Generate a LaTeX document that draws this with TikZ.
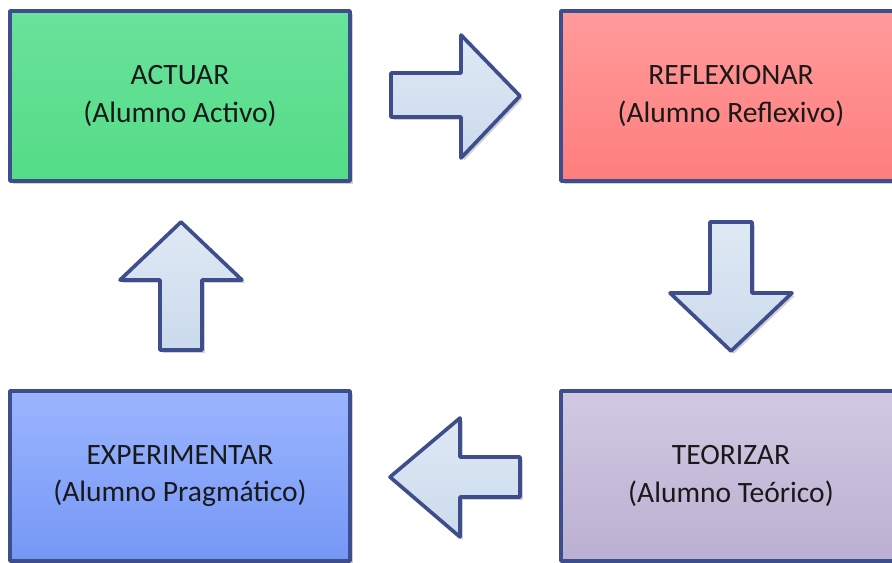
\documentclass[tikz,border=0pt]{standalone}
\usepackage{fontspec}
\setmainfont{Carlito}
\usetikzlibrary{shadows}

\definecolor{borde}{HTML}{3E4E8C}
\definecolor{verdeA}{HTML}{69E29B}
\definecolor{verdeB}{HTML}{54DC87}
\definecolor{rojoA}{HTML}{FF9B9B}
\definecolor{rojoB}{HTML}{FF7D7D}
\definecolor{moradoA}{HTML}{D1C9E2}
\definecolor{moradoB}{HTML}{BBB0D1}
\definecolor{azulA}{HTML}{9BB5FF}
\definecolor{azulB}{HTML}{7597F5}
\definecolor{flechaA}{HTML}{DFE9F4}
\definecolor{flechaB}{HTML}{CBDAEC}

\tikzset{
  caja/.style={draw=borde, line width=2.6pt, line join=round, minimum width=8.5cm, minimum height=4.25cm,
    align=center, text=black!90, font=\fontsize{21}{26.5}\selectfont,
    drop shadow={shadow xshift=2pt, shadow yshift=-2pt, opacity=0.18, fill=black}},
  flecha/.style={draw=borde, line width=2.6pt, line join=round, top color=flechaA, bottom color=flechaB,
    drop shadow={shadow xshift=2pt, shadow yshift=-2pt, opacity=0.18, fill=black}}
}

\begin{document}
\begin{tikzpicture}[x=0.025cm, y=-0.025cm]
\clip (0,0) rectangle (892,563);

\node[caja, top color=verdeA, bottom color=verdeB] (actuar) at (180,96) {ACTUAR\\(Alumno Activo)};
\node[caja, top color=rojoA, bottom color=rojoB] (reflex) at (731,96) {REFLEXIONAR\\(Alumno Reflexivo)};
\node[caja, top color=moradoA, bottom color=moradoB] (teor) at (731,476) {TEORIZAR\\(Alumno Teórico)};
\node[caja, top color=azulA, bottom color=azulB] (exper) at (180,476) {EXPERIMENTAR\\(Alumno Pragmático)};

% flechas entre cajas
\draw[flecha] (391,73) -- (461,73) -- (461,35) -- (520,96) -- (461,158) -- (461,117) -- (391,117) -- cycle;
\draw[flecha] (710,222) -- (752,222) -- (752,293) -- (792,293) -- (731,351) -- (670,293) -- (710,293) -- cycle;
\draw[flecha] (520,457) -- (460,457) -- (460,418) -- (390,477) -- (460,537) -- (460,497) -- (520,497) -- cycle;
\draw[flecha] (160,350) -- (160,280) -- (120,280) -- (181,222) -- (242,280) -- (202,280) -- (202,350) -- cycle;
\end{tikzpicture}
\end{document}
